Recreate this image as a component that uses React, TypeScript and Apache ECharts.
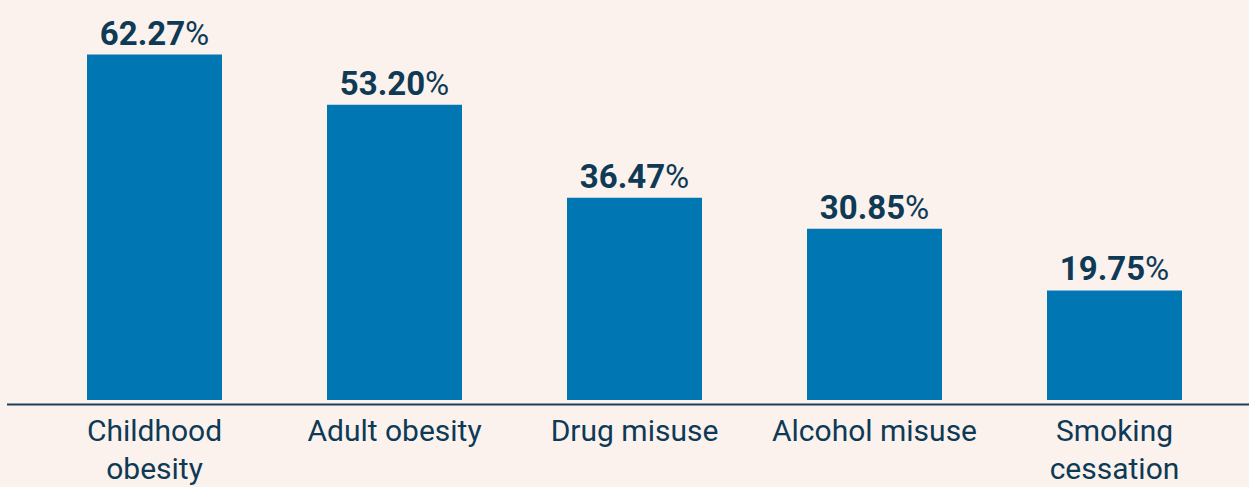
import React, { useEffect, useRef } from "react";
import * as echarts from "echarts";

const categories = ["Childhood\nobesity", "Adult obesity", "Drug misuse", "Alcohol misuse", "Smoking\ncessation"];
const values = [62.27, 53.2, 36.47, 30.85, 19.75];

const BG = "#FBF2EE";
const BAR = "#0077B3";
const TEXT = "#0E3A55";

export default function App() {
  const ref = useRef<HTMLDivElement>(null);
  useEffect(() => {
    document.body.style.margin = "0";
    document.body.style.background = BG;
    const chart = echarts.init(ref.current!, undefined, { renderer: "svg" });
    chart.setOption({
      animation: false,
      backgroundColor: BG,
      textStyle: { fontFamily: "Roboto" },
      grid: { left: 34.5, width: 1200, top: 0, bottom: 83, containLabel: false },
      xAxis: {
        type: "category",
        data: categories,
        axisLine: { show: false },
        axisTick: { show: false },
        axisLabel: {
          color: TEXT,
          fontSize: 30,
          fontWeight: "normal",
          lineHeight: 38,
          margin: 11,
          fontFamily: "Roboto",
          interval: 0,
        },
      },
      yAxis: {
        type: "value",
        min: 0,
        max: 72.1,
        show: false,
        splitLine: { show: false },
      },
      graphic: [
        {
          type: "line",
          shape: { x1: 7, y1: 404.5, x2: 1249, y2: 404.5 },
          style: { stroke: "#1B4059", lineWidth: 2 },
          z: 100,
        },
      ],
      series: [
        {
          type: "bar",
          data: values,
          barWidth: 135,
          itemStyle: { color: BAR },
          label: {
            show: true,
            position: "top",
            distance: 5,
            formatter: (p: any) => `{b|${p.value.toFixed(2)}}{p|%}`,
            rich: {
              b: { fontSize: 33, fontWeight: "bold", color: TEXT, fontFamily: "Roboto" },
              p: { fontSize: 33, fontWeight: "normal", color: TEXT, fontFamily: "Roboto" },
            },
          },
        },
      ],
    });
    return () => chart.dispose();
  }, []);
  return <div ref={ref} style={{ position: "absolute", left: 0, top: 0, width: 1249, height: 487 }} />;
}
